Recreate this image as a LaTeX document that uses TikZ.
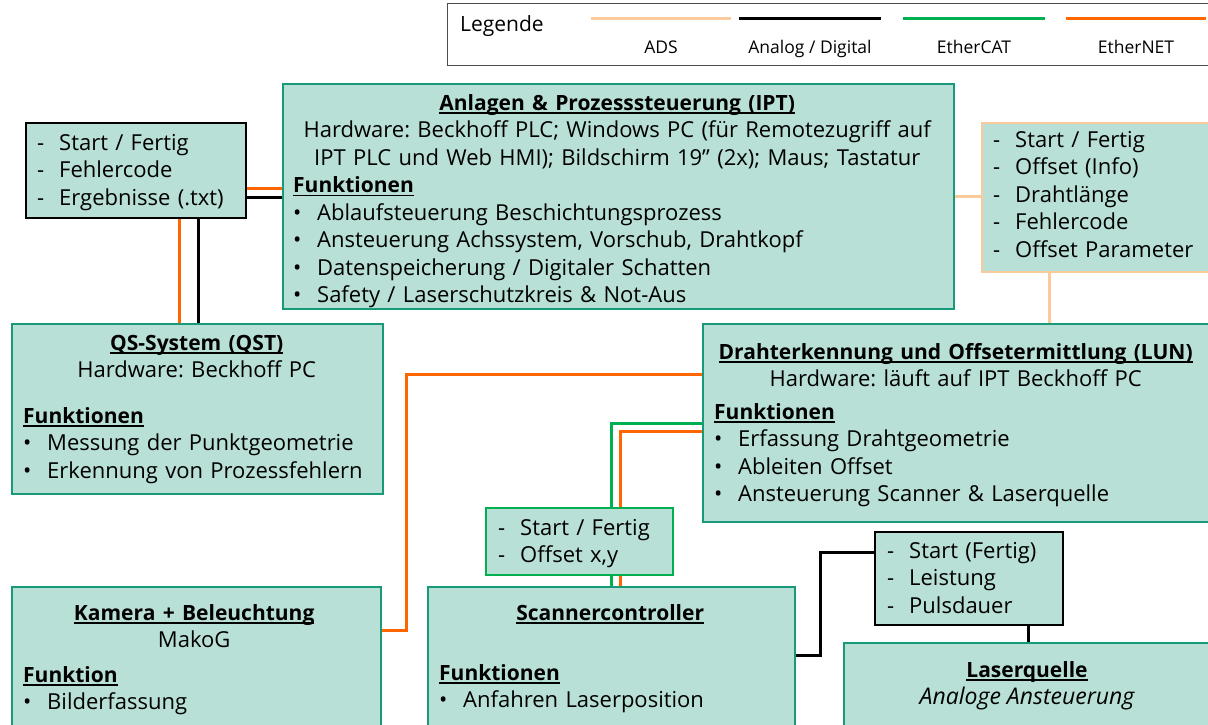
\documentclass[tikz,border=0pt]{standalone}
\usepackage{fontspec}
\setmainfont{Open Sans}
\usetikzlibrary{positioning}

\definecolor{boxfill}{RGB}{184,224,215}
\definecolor{boxteal}{RGB}{24,154,122}
\definecolor{ecatgreen}{RGB}{0,176,80}
\definecolor{enetorange}{RGB}{255,102,0}
\definecolor{adspeach}{RGB}{251,202,155}

% underlined bold heading (rule just under the baseline)
\newcommand{\uhead}[1]{\leavevmode\setbox0\hbox{\fontsize{21}{27.5}\selectfont\bfseries #1}\dp0=0pt\vtop{\box0\kern1.8pt\hrule height 1.3pt}}
\newcommand{\li}[1]{\makebox[24pt][l]{\textbullet}#1}
\newcommand{\sig}[1]{\makebox[22pt][l]{-}#1}

\tikzset{
  box/.style={draw=boxteal, fill=boxfill, line width=2.2pt, anchor=north west, inner sep=0pt},
  sigbox/.style={box, draw=#1},
  txt/.style={anchor=north west, inner sep=0pt, align=left,
    font=\fontsize{22}{27.5}\selectfont\frenchspacing\setlength{\parindent}{0pt}},
  legtxt/.style={anchor=base, inner sep=0pt, font=\fontsize{17.5}{20}\selectfont},
  ads/.style={draw=adspeach, line width=3pt},
  ana/.style={draw=black, line width=3pt},
  ecat/.style={draw=ecatgreen, line width=3pt},
  enet/.style={draw=enetorange, line width=3pt}
}

\begin{document}
\begin{tikzpicture}[x=1pt, y=-1pt]
  \useasboundingbox (0,0) rectangle (1208,724);

  % Legend
  \node[draw=black!70, line width=0.8pt, anchor=north west, inner sep=0pt,
        minimum width=770pt, minimum height=62pt] (legend) at (447,3) {};
  \node[anchor=base west, inner sep=0pt, font=\fontsize{21}{24}\selectfont] (legend-title) at (460,31) {Legende};
  \draw[ads] (591,18) -- (731,18);
  \draw[ana] (739,18) -- (881,18);
  \draw[ecat] (903,18) -- (1045,18);
  \draw[enet] (1066,18) -- (1206,18);
  \node[legtxt] (l-ads) at (661,53) {ADS};
  \node[legtxt] (l-ana) at (810,53) {Analog / Digital};
  \node[legtxt] (l-ecat) at (974,53) {EtherCAT};
  \node[legtxt] (l-enet) at (1136,53) {EtherNET};

  % Boxes
  \node[sigbox=black, minimum width=220pt, minimum height=95pt] (sig-qs) at (25,122) {};
  \node[box, minimum width=671pt, minimum height=225pt] (ipt) at (282,83) {};
  \node[sigbox=adspeach, minimum width=234pt, minimum height=149pt] (sig-ipt) at (981,122) {};
  \node[box, minimum width=371pt, minimum height=170pt] (qs) at (11,323) {};
  \node[box, minimum width=513pt, minimum height=198pt] (lun) at (702,323) {};
  \node[sigbox=ecatgreen, minimum width=187pt, minimum height=67pt] (sig-scan) at (485,507) {};
  \node[sigbox=black, minimum width=188pt, minimum height=93pt] (sig-laser) at (874,531) {};
  \node[box, minimum width=369pt, minimum height=150pt] (cam) at (11,586) {};
  \node[box, minimum width=367pt, minimum height=150pt] (scan) at (427,586) {};
  \node[box, minimum width=372pt, minimum height=92pt] (laser) at (843,642) {};

  % Texts
  \node[txt, text width=205pt] (sig-qs-txt) at (37,131)
    {\strut\sig{Start / Fertig}\\ \sig{Fehlercode}\\ \sig{Ergebnisse (.txt)}};
  \node[txt, text width=648pt] (ipt-txt) at (293,91)
    {{\centering\strut\uhead{Anlagen \& Prozesssteuerung (IPT)}\\
      Hardware: Beckhoff PLC; Windows PC (für Remotezugriff auf\\
      IPT PLC und Web HMI); Bildschirm 19” (2x); Maus; Tastatur\par}
     \uhead{Funktionen}\\
     \li{Ablaufsteuerung Beschichtungsprozess}\\
     \li{Ansteuerung Achssystem, Vorschub, Drahtkopf}\\
     \li{Datenspeicherung / Digitaler Schatten}\\
     \li{Safety / Laserschutzkreis \& Not-Aus}};
  \node[txt, text width=210pt] (sig-ipt-txt) at (993,128)
    {\strut\sig{Start / Fertig}\\ \sig{Offset (Info)}\\ \sig{Drahtlänge}\\
     \sig{Fehlercode}\\ \sig{Offset Parameter}};
  \node[txt, text width=347pt] (qs-txt) at (23,331)
    {{\centering\strut\uhead{QS-System (QST)}\\ Hardware: Beckhoff PC\par}
     \vspace{18pt}\uhead{Funktionen}\\
     \li{Messung der Punktgeometrie}\\
     \li{Erkennung von Prozessfehlern}};
  \node[txt, text width=483pt] (lun-txt) at (714,340)
    {{\centering\strut\uhead{Drahterkennung und Offsetermittlung (LUN)}\\
      Hardware: läuft auf IPT Beckhoff PC\par}
     \vspace{5pt}\uhead{Funktionen}\\
     \li{Erfassung Drahtgeometrie}\\
     \li{Ableiten Offset}\\
     \li{Ansteuerung Scanner \& Laserquelle}};
  \node[txt, text width=170pt] (sig-scan-txt) at (498,516)
    {\strut\sig{Start / Fertig}\\ \sig{Offset x,y}};
  \node[txt, text width=170pt] (sig-laser-txt) at (887,539)
    {\strut\sig{Start (Fertig)}\\ \sig{Leistung}\\ \sig{Pulsdauer}};
  \node[txt, text width=342pt] (cam-txt) at (23,601)
    {{\centering\strut\uhead{Kamera + Beleuchtung}\\ MakoG\par}
     \vspace{7pt}\uhead{Funktion}\\
     \li{Bilderfassung}};
  \node[txt, text width=342pt] (scan-txt) at (439,601)
    {{\centering\strut\uhead{Scannercontroller}\par}
     \vspace{32.5pt}\uhead{Funktionen}\\
     \li{Anfahren Laserposition}};
  \node[txt, anchor=north, align=center] (laser-txt) at (1027,658)
    {\strut\uhead{Laserquelle}\\ \fontsize{23}{27.5}\selectfont\itshape Analoge Ansteuerung};

  % Connections
  \draw[enet] ([yshift=-17.5pt]sig-qs.east) -- ([yshift=-17.5pt]sig-qs.east -| ipt.west);
  \draw[ana] ([yshift=-26.5pt]sig-qs.east) -- ([yshift=-26.5pt]sig-qs.east -| ipt.west);
  \draw[enet] ([xshift=43pt]sig-qs.south) -- ([xshift=43pt]sig-qs.south |- qs.north);
  \draw[ana] ([xshift=62pt]sig-qs.south) -- ([xshift=62pt]sig-qs.south |- qs.north);
  \draw[ads] (ipt.east) -- (ipt.east -| sig-ipt.west);
  \draw[ads] ([xshift=-50pt]sig-ipt.south) -- ([xshift=-50pt]sig-ipt.south |- lun.north);
  \draw[enet] ([yshift=49pt]lun.west) -- ++(-296,0) |- ([yshift=32pt]cam.east);
  \draw[ecat] (lun.west) -| ([xshift=31.5pt]sig-scan.north);
  \draw[ecat] ([xshift=31.5pt]sig-scan.south) -- ([xshift=31.5pt]sig-scan.south |- scan.north);
  \draw[enet] ([yshift=-8.5pt]lun.west) -| ([xshift=40.5pt]sig-scan.north);
  \draw[enet] ([xshift=40.5pt]sig-scan.south) -- ([xshift=40.5pt]sig-scan.south |- scan.north);
  \draw[ana] ([yshift=7pt]scan.east) -- ++(24,0) |- ([yshift=26pt]sig-laser.west);
  \draw[ana] ([xshift=59pt]sig-laser.south) -- ([xshift=59pt]sig-laser.south |- laser.north);
\end{tikzpicture}
\end{document}
